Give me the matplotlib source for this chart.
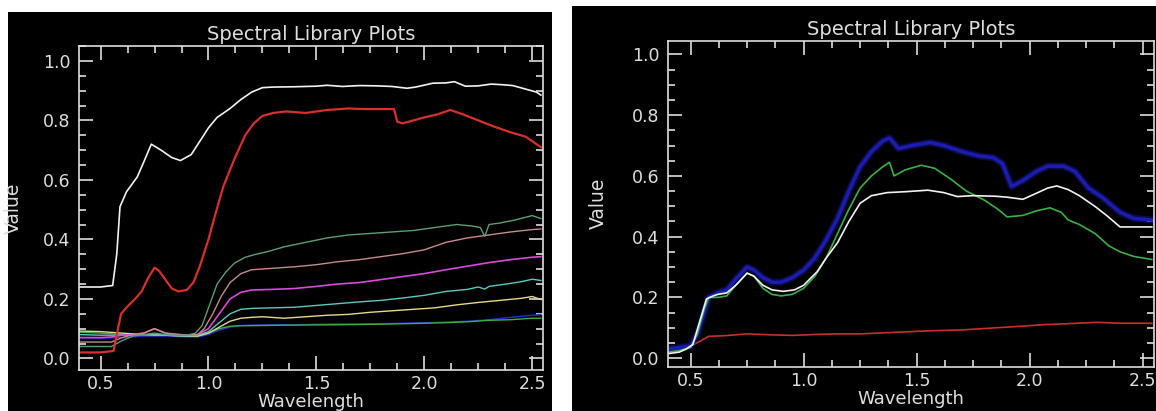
import numpy as np
import matplotlib
matplotlib.use("Agg")
import matplotlib.pyplot as plt
from matplotlib.patches import Rectangle
from matplotlib.ticker import MultipleLocator

# ---- left panel spectra (wavelength, value) ----
wl_white_l = [0.40, 0.50, 0.556, 0.575, 0.59, 0.62, 0.67, 0.70, 0.735, 0.78, 0.83, 0.87, 0.92, 0.96, 1.00, 1.04,
              1.10, 1.15, 1.20, 1.25, 1.30, 1.40, 1.50, 1.55, 1.62, 1.70, 1.78, 1.85, 1.92, 1.96, 2.04, 2.10,
              2.14, 2.19, 2.25, 2.31, 2.36, 2.41, 2.47, 2.52, 2.54]
white_l = [0.24, 0.24, 0.245, 0.35, 0.51, 0.56, 0.61, 0.66, 0.72, 0.70, 0.675, 0.665, 0.685, 0.73, 0.775, 0.81,
           0.84, 0.87, 0.895, 0.91, 0.912, 0.913, 0.915, 0.918, 0.914, 0.917, 0.916, 0.914, 0.908, 0.912, 0.925, 0.926,
           0.93, 0.915, 0.916, 0.922, 0.92, 0.917, 0.905, 0.895, 0.885]

wl_red_l = [0.40, 0.50, 0.56, 0.575, 0.595, 0.625, 0.66, 0.69, 0.72, 0.75, 0.77, 0.80, 0.83, 0.86, 0.90, 0.93,
            0.96, 1.00, 1.03, 1.07, 1.12, 1.17, 1.21, 1.25, 1.30, 1.36, 1.45, 1.55, 1.65, 1.72, 1.80, 1.86,
            1.875, 1.90, 1.95, 2.00, 2.06, 2.12, 2.18, 2.25, 2.32, 2.40, 2.47, 2.54]
red_l = [0.02, 0.02, 0.025, 0.08, 0.15, 0.175, 0.20, 0.225, 0.27, 0.305, 0.295, 0.265, 0.235, 0.225, 0.23, 0.255,
         0.31, 0.40, 0.48, 0.58, 0.67, 0.75, 0.79, 0.815, 0.825, 0.83, 0.825, 0.835, 0.84, 0.838, 0.838, 0.838,
         0.795, 0.79, 0.80, 0.81, 0.82, 0.835, 0.82, 0.80, 0.78, 0.76, 0.745, 0.71]

wl_seagreen_l = [0.40, 0.50, 0.55, 0.60, 0.65, 0.70, 0.75, 0.80, 0.85, 0.90, 0.94, 0.97, 1.00, 1.04, 1.08, 1.12,
                 1.17, 1.22, 1.28, 1.35, 1.45, 1.55, 1.65, 1.75, 1.85, 1.95, 2.05, 2.15, 2.22, 2.26, 2.28, 2.30,
                 2.35, 2.42, 2.50, 2.54]
seagreen_l = [0.04, 0.04, 0.04, 0.06, 0.075, 0.08, 0.085, 0.08, 0.078, 0.078, 0.085, 0.11, 0.17, 0.25, 0.29, 0.32,
              0.34, 0.35, 0.36, 0.375, 0.39, 0.405, 0.415, 0.42, 0.425, 0.43, 0.44, 0.45, 0.445, 0.44, 0.41, 0.45,
              0.455, 0.465, 0.48, 0.47]

wl_pink_l = [0.40, 0.50, 0.55, 0.60, 0.65, 0.70, 0.75, 0.80, 0.85, 0.90, 0.95, 0.98, 1.02, 1.06, 1.10, 1.15,
             1.20, 1.30, 1.40, 1.50, 1.60, 1.70, 1.80, 1.90, 2.00, 2.10, 2.20, 2.30, 2.40, 2.50, 2.54]
pink_l = [0.055, 0.055, 0.055, 0.07, 0.08, 0.085, 0.10, 0.085, 0.08, 0.078, 0.08, 0.10, 0.15, 0.21, 0.255, 0.285,
          0.298, 0.303, 0.308, 0.315, 0.325, 0.332, 0.342, 0.352, 0.365, 0.39, 0.405, 0.415, 0.425, 0.433, 0.435]

wl_magenta_l = [0.40, 0.50, 0.55, 0.60, 0.65, 0.70, 0.75, 0.80, 0.90, 0.95, 1.00, 1.05, 1.10, 1.15, 1.20, 1.30,
                1.40, 1.50, 1.60, 1.70, 1.80, 1.90, 2.00, 2.10, 2.20, 2.30, 2.40, 2.50, 2.54]
magenta_l = [0.07, 0.07, 0.072, 0.078, 0.08, 0.085, 0.10, 0.085, 0.078, 0.08, 0.10, 0.15, 0.20, 0.222, 0.23, 0.232,
             0.235, 0.242, 0.25, 0.255, 0.265, 0.275, 0.285, 0.298, 0.31, 0.322, 0.332, 0.34, 0.342]

wl_cyan_l = [0.40, 0.50, 0.60, 0.70, 0.80, 0.90, 0.95, 1.00, 1.05, 1.10, 1.15, 1.20, 1.30, 1.40, 1.50, 1.60,
             1.70, 1.80, 1.90, 2.00, 2.10, 2.20, 2.25, 2.28, 2.30, 2.40, 2.45, 2.50, 2.54]
cyan_l = [0.08, 0.078, 0.078, 0.08, 0.078, 0.075, 0.078, 0.09, 0.12, 0.15, 0.165, 0.168, 0.17, 0.172, 0.178, 0.184,
          0.19, 0.195, 0.203, 0.212, 0.225, 0.232, 0.24, 0.233, 0.242, 0.252, 0.258, 0.266, 0.262]

wl_yellow_l = [0.40, 0.50, 0.60, 0.70, 0.80, 0.90, 0.95, 1.00, 1.05, 1.10, 1.15, 1.20, 1.25, 1.35, 1.45, 1.55,
               1.65, 1.75, 1.85, 1.95, 2.05, 2.15, 2.25, 2.35, 2.45, 2.50, 2.54]
yellow_l = [0.092, 0.09, 0.085, 0.08, 0.078, 0.075, 0.075, 0.085, 0.105, 0.125, 0.135, 0.138, 0.14, 0.135, 0.14, 0.145,
            0.148, 0.155, 0.16, 0.165, 0.17, 0.18, 0.188, 0.195, 0.202, 0.208, 0.198]

wl_green_l = [0.40, 0.50, 0.60, 0.70, 0.80, 0.90, 0.95, 1.00, 1.05, 1.10, 1.15, 1.20, 1.40, 1.60, 1.80, 2.00,
              2.10, 2.20, 2.30, 2.40, 2.50, 2.54]
green_l = [0.088, 0.085, 0.08, 0.08, 0.078, 0.075, 0.075, 0.085, 0.10, 0.108, 0.11, 0.11, 0.112, 0.113, 0.115, 0.118,
           0.12, 0.123, 0.128, 0.13, 0.135, 0.135]

wl_blue_l = [0.40, 0.50, 0.60, 0.70, 0.80, 0.90, 0.95, 1.00, 1.05, 1.10, 1.15, 1.20, 1.30, 1.40, 1.50, 1.60,
             1.70, 1.80, 1.90, 2.00, 2.10, 2.20, 2.30, 2.40, 2.50, 2.54]
blue_l = [0.07, 0.068, 0.07, 0.075, 0.075, 0.072, 0.072, 0.08, 0.095, 0.105, 0.11, 0.112, 0.113, 0.113, 0.115, 0.116,
          0.116, 0.117, 0.118, 0.12, 0.122, 0.125, 0.13, 0.138, 0.145, 0.147]

# ---- right panel spectra ----
wl_blue_r = [0.40, 0.45, 0.50, 0.53, 0.56, 0.58, 0.62, 0.66, 0.70, 0.75, 0.78, 0.82, 0.86, 0.90, 0.95, 1.00,
             1.05, 1.10, 1.15, 1.20, 1.25, 1.30, 1.35, 1.38, 1.42, 1.48, 1.56, 1.62, 1.70, 1.78, 1.84, 1.88,
             1.92, 1.97, 2.03, 2.08, 2.15, 2.20, 2.26, 2.32, 2.40, 2.46, 2.54]
blue_r = [0.03, 0.035, 0.04, 0.08, 0.15, 0.20, 0.215, 0.225, 0.26, 0.30, 0.29, 0.265, 0.25, 0.25, 0.265, 0.29,
          0.33, 0.39, 0.46, 0.55, 0.63, 0.68, 0.715, 0.725, 0.69, 0.70, 0.71, 0.70, 0.68, 0.665, 0.66, 0.64,
          0.565, 0.585, 0.615, 0.632, 0.632, 0.615, 0.56, 0.53, 0.48, 0.46, 0.455]

wl_green_r = [0.40, 0.45, 0.50, 0.53, 0.56, 0.58, 0.62, 0.66, 0.70, 0.75, 0.78, 0.82, 0.86, 0.90, 0.95, 1.00,
              1.05, 1.10, 1.15, 1.20, 1.25, 1.30, 1.35, 1.38, 1.40, 1.45, 1.52, 1.58, 1.65, 1.72, 1.80, 1.86,
              1.90, 1.97, 2.03, 2.09, 2.14, 2.17, 2.22, 2.29, 2.35, 2.40, 2.46, 2.54]
green_r = [0.02, 0.025, 0.035, 0.08, 0.16, 0.20, 0.20, 0.205, 0.24, 0.28, 0.27, 0.23, 0.21, 0.205, 0.21, 0.23,
           0.27, 0.33, 0.41, 0.49, 0.56, 0.60, 0.63, 0.645, 0.60, 0.62, 0.635, 0.625, 0.59, 0.55, 0.52, 0.49,
           0.465, 0.47, 0.485, 0.495, 0.48, 0.455, 0.44, 0.41, 0.37, 0.35, 0.335, 0.325]

wl_white_r = [0.40, 0.45, 0.48, 0.51, 0.54, 0.57, 0.60, 0.62, 0.66, 0.70, 0.75, 0.78, 0.82, 0.86, 0.91, 0.96,
              1.00, 1.06, 1.10, 1.15, 1.20, 1.25, 1.30, 1.37, 1.45, 1.55, 1.62, 1.68, 1.75, 1.85, 1.90, 1.97,
              2.03, 2.08, 2.12, 2.17, 2.22, 2.29, 2.34, 2.40, 2.45, 2.54]
white_r = [0.015, 0.02, 0.03, 0.045, 0.12, 0.195, 0.205, 0.21, 0.215, 0.24, 0.28, 0.27, 0.24, 0.225, 0.22, 0.225,
           0.24, 0.285, 0.33, 0.38, 0.45, 0.51, 0.535, 0.545, 0.548, 0.553, 0.545, 0.532, 0.535, 0.533, 0.53, 0.523,
           0.543, 0.56, 0.567, 0.555, 0.535, 0.499, 0.47, 0.432, 0.432, 0.432]

wl_red_r = [0.40, 0.45, 0.50, 0.54, 0.58, 0.65, 0.75, 0.85, 0.95, 1.05, 1.15, 1.25, 1.40, 1.55, 1.70, 1.85,
            2.00, 2.05, 2.15, 2.30, 2.40, 2.54]
red_r = [0.03, 0.035, 0.04, 0.055, 0.072, 0.074, 0.08, 0.077, 0.075, 0.078, 0.08, 0.08, 0.085, 0.09, 0.093, 0.10,
         0.107, 0.11, 0.113, 0.118, 0.115, 0.115]

fg = "#dedede"
fnt = "DejaVu Sans"

fig = plt.figure(figsize=(11.56, 4.11), dpi=100, facecolor="white")
# black panel backgrounds (figure pixel coords -> fractions)
W, H = 1156.0, 411.0
fig.patches.append(Rectangle((8 / W, 0), 544 / W, (H - 12) / H, transform=fig.transFigure,
                             facecolor="black", edgecolor="none", zorder=-10))
fig.patches.append(Rectangle((572 / W, 0), 584 / W, (H - 6) / H, transform=fig.transFigure,
                             facecolor="black", edgecolor="none", zorder=-10))

ax1 = fig.add_axes([79 / W, 41 / H, 464 / W, 324 / H])
ax2 = fig.add_axes([668 / W, 44.3 / H, 486 / W, 326 / H])


def style(ax, ylo, yhi):
    ax.set_facecolor("black")
    ax.set_xlim(0.4, 2.55)
    ax.set_ylim(ylo, yhi)
    for s in ax.spines.values():
        s.set_color(fg)
        s.set_linewidth(1.2)
    ax.xaxis.set_major_locator(MultipleLocator(0.5))
    ax.xaxis.set_minor_locator(MultipleLocator(0.125))
    ax.yaxis.set_major_locator(MultipleLocator(0.2))
    ax.yaxis.set_minor_locator(MultipleLocator(0.05))
    ax.xaxis.set_major_formatter(plt.FuncFormatter(lambda v, p: "%.1f" % v))
    ax.yaxis.set_major_formatter(plt.FuncFormatter(lambda v, p: "%.1f" % (v + 0.0)))
    ax.tick_params(which="both", direction="in", top=True, right=True, colors=fg, width=1.2)
    ax.tick_params(which="major", length=10, labelsize=12.5, pad=6)
    ax.tick_params(axis="x", which="major", pad=3.5)
    ax.tick_params(which="minor", length=5)
    for lab in ax.get_xticklabels() + ax.get_yticklabels():
        lab.set_family(fnt)
        lab.set_color(fg)
    ax.set_title("Spectral Library Plots", color=fg, fontsize=14, family=fnt, pad=4)
    ax.set_xlabel("Wavelength", color=fg, fontsize=13, family=fnt, labelpad=0)
    ax.set_ylabel("Value", color=fg, fontsize=13.5, family=fnt)


style(ax1, -0.039, 1.05)
style(ax2, -0.028, 1.045)
ax1.yaxis.set_label_coords(-0.12, 0.5)
ax2.yaxis.set_label_coords(-0.123, 0.5)

# left panel
ax1.plot(wl_blue_l, blue_l, color="#2a2ad8", lw=1.0)
ax1.plot(wl_green_l, green_l, color="#3cb043", lw=1.0)
ax1.plot(wl_yellow_l, yellow_l, color="#e8d88a", lw=1.0)
ax1.plot(wl_cyan_l, cyan_l, color="#5cc8c0", lw=1.0)
ax1.plot(wl_magenta_l, magenta_l, color="#d84ad8", lw=1.2)
ax1.plot(wl_pink_l, pink_l, color="#c98a8a", lw=1.0)
ax1.plot(wl_seagreen_l, seagreen_l, color="#5e9e72", lw=1.0)
ax1.plot(wl_red_l, red_l, color="#d8302a", lw=1.6)
ax1.plot(wl_white_l, white_l, color="#f2f2f2", lw=1.2)

# right panel
ax2.plot(wl_red_r, red_r, color="#c8302a", lw=1.2)
ax2.plot(wl_blue_r, blue_r, color="#161690", lw=5, alpha=0.5)
ax2.plot(wl_blue_r, blue_r, color="#1c1cb0", lw=2.5)
ax2.plot(wl_green_r, green_r, color="#3cb043", lw=1.2)
ax2.plot(wl_white_r, white_r, color="#f2f2f2", lw=1.2)

fig.savefig("out.png", dpi=100, facecolor="white")
